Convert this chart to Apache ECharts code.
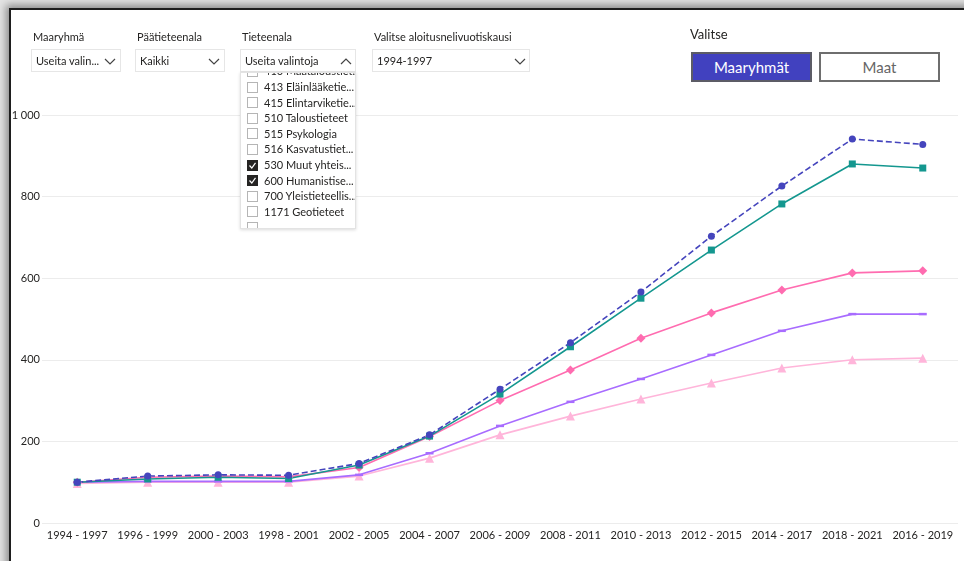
<!DOCTYPE html>
<html>
<head>
<meta charset="utf-8">
<script src="https://cdn.jsdelivr.net/npm/echarts@6/dist/echarts.min.js"></script>
<style>
  html, body { margin:0; padding:0; width:964px; height:561px; overflow:hidden; background:#e4e4e4; font-family:"Lato","Noto Sans",sans-serif; color:#252423; }
  #frame { position:absolute; left:9px; top:8px; width:970px; height:570px; background:#fff; border-left:2px solid #1e1e1e; border-top:2px solid #1e1e1e; box-shadow:-3px -3px 8px rgba(0,0,0,0.4); }
  #chart { position:absolute; left:0; top:0; width:964px; height:561px; }
  .lbl { position:absolute; top:30px; font-size:11px; line-height:14px; white-space:nowrap; }
  .box { position:absolute; top:49px; height:21px; border:1px solid #e6e6e6; background:#fff; font-size:11px; line-height:21px; box-sizing:content-box; }
  .box span { position:absolute; left:4px; white-space:nowrap; }
  .box svg { position:absolute; top:8px; }
  #list { position:absolute; left:240px; top:72px; width:114px; height:155px; background:#fff; border:1px solid #e3e3e3; box-shadow:0 1px 3px rgba(0,0,0,0.15); overflow:hidden; z-index:5; }
  .item { position:absolute; left:0; height:15.6px; font-size:11px; line-height:15.6px; white-space:nowrap; }
  .cb { position:absolute; left:6px; top:2.5px; width:9px; height:9px; border:1px solid #b5b5b5; background:#fff; }
  .cb.on { background:#252423; border-color:#252423; }
  .cb.on svg { position:absolute; left:1px; top:1px; }
  .item .t { position:absolute; left:23px; }
  .btn { position:absolute; top:52px; height:26px; width:117px; font-size:15px; line-height:26px; text-align:center; font-family:"Lato","Noto Sans",sans-serif; }
  #overlay { position:absolute; left:0; top:0; width:964px; height:561px; pointer-events:none; z-index:4; }
</style>
</head>
<body>
<div id="frame"></div>
<div id="chart"></div>
<div id="overlay">
  <div class="lbl" style="left:33px;">Maaryhmä</div>
  <div class="box" style="left:31px;width:88px;"><span>Useita valin...</span>
    <svg style="left:72px" width="12" height="7"><polyline points="1,1 6,6 11,1" fill="none" stroke="#444" stroke-width="1.2"/></svg></div>
  <div class="lbl" style="left:137px;">Päätieteenala</div>
  <div class="box" style="left:135px;width:88px;"><span>Kaikki</span>
    <svg style="left:72px" width="12" height="7"><polyline points="1,1 6,6 11,1" fill="none" stroke="#444" stroke-width="1.2"/></svg></div>
  <div class="lbl" style="left:242px;">Tieteenala</div>
  <div class="box" style="left:240px;width:114px;"><span>Useita valintoja</span>
    <svg style="left:99px" width="12" height="7"><polyline points="1,6 6,1 11,6" fill="none" stroke="#444" stroke-width="1.2"/></svg></div>
  <div class="lbl" style="left:374px;">Valitse aloitusnelivuotiskausi</div>
  <div class="box" style="left:372px;width:156px;"><span>1994-1997</span>
    <svg style="left:141px" width="12" height="7"><polyline points="1,1 6,6 11,1" fill="none" stroke="#444" stroke-width="1.2"/></svg></div>
  <div style="position:absolute;left:690px;top:26px;font-size:13px;line-height:16px;">Valitse</div>
  <div class="btn" style="left:691px;background:#4141BF;border:2px solid #5c5c66;color:#fff;">Maaryhmät</div>
  <div class="btn" style="left:819px;background:#fff;border:2px solid #6e6e6e;color:#666;">Maat</div>
</div>
<div id="list"></div>
<script>
const categories = ['1994 - 1997','1996 - 1999','2000 - 2003','1998 - 2001','2002 - 2005','2004 - 2007','2006 - 2009','2008 - 2011','2010 - 2013','2012 - 2015','2014 - 2017','2018 - 2021','2016 - 2019'];
const seriesDarkBlue  = [100, 115, 118, 117, 146, 216, 328, 442, 566, 703, 826, 941, 928];
const seriesTeal      = [100, 108, 112, 109, 142, 213, 316, 432, 551, 669, 782, 880, 870];
const seriesPink      = [100, 112, 115, 113, 136, 212, 300, 375, 453, 515, 571, 613, 618];
const seriesPurple    = [100, 102, 102, 102, 118, 171, 238, 297, 353, 412, 471, 512, 512];
const seriesLightPink = [97, 100, 100, 100, 115, 159, 216, 262, 304, 343, 380, 400, 404];
const yTicks = [0, 200, 400, 600, 800, 1000];
const listItems = [
  ['410 Maataloustiet...', false], ['413 Eläinlääketie...', false], ['415 Elintarviketie...', false],
  ['510 Taloustieteet', false], ['515 Psykologia', false], ['516 Kasvatustiet...', false],
  ['530 Muut yhteis...', true], ['600 Humanistise...', true], ['700 Yleistieteellis...', false],
  ['1171 Geotieteet', false], ['', false]
];

// build dropdown list
const list = document.getElementById('list');
listItems.forEach((it, i) => {
  const d = document.createElement('div');
  d.className = 'item';
  d.style.top = (-9.6 + i * 15.6) + 'px';
  d.style.width = '114px';
  const check = it[1] ? '<svg width="7" height="7"><polyline points="0.5,3.5 2.8,6 6.5,0.8" fill="none" stroke="#fff" stroke-width="1.2"/></svg>' : '';
  d.innerHTML = '<div class="cb' + (it[1] ? ' on' : '') + '">' + check + '</div><span class="t">' + it[0] + '</span>';
  list.appendChild(d);
});

const chart = echarts.init(document.getElementById('chart'), null, {renderer:'canvas'});
const fontFam = 'Lato, "Noto Sans", sans-serif';
function line(name, data, color, symbol, size, dashed, symbolSize2) {
  return {
    name, type:'line', data, symbol, symbolSize: symbolSize2 || size,
    lineStyle:{ color, width: 1.6, type: dashed ? [6,3] : 'solid' },
    itemStyle:{ color },
    showSymbol:true
  };
}
chart.setOption({
  animation:false,
  backgroundColor:'transparent',
  grid:{ left:42, right:6, top:115, bottom:38, containLabel:false },
  xAxis:{
    type:'category', data:categories, boundaryGap:true,
    axisLine:{show:false}, axisTick:{show:false},
    axisLabel:{ color:'#252423', fontSize:11, fontFamily:fontFam, margin:7, interval:0 }
  },
  yAxis:{
    type:'value', min:yTicks[0], max:yTicks[yTicks.length-1], interval:200,
    axisLine:{show:false}, axisTick:{show:false},
    splitLine:{ lineStyle:{ color:'#ececec', width:1 } },
    axisLabel:{ color:'#252423', fontSize:11, fontFamily:fontFam, margin:2,
      formatter: v => v >= 1000 ? String(v).replace(/\B(?=(\d{3})+(?!\d))/g, ' ') : String(v) }
  },
  series:[
    line('LightPink', seriesLightPink, '#FFB5DA', 'triangle', 9),
    line('Purple', seriesPurple, '#A86CFF', 'rect', 7, false, [8,2.5]),
    line('Pink', seriesPink, '#FF6CB0', 'diamond', 9),
    line('Teal', seriesTeal, '#14978F', 'rect', 7),
    line('DarkBlue', seriesDarkBlue, '#4545BD', 'circle', 7, true)
  ]
});
</script>
</body>
</html>
